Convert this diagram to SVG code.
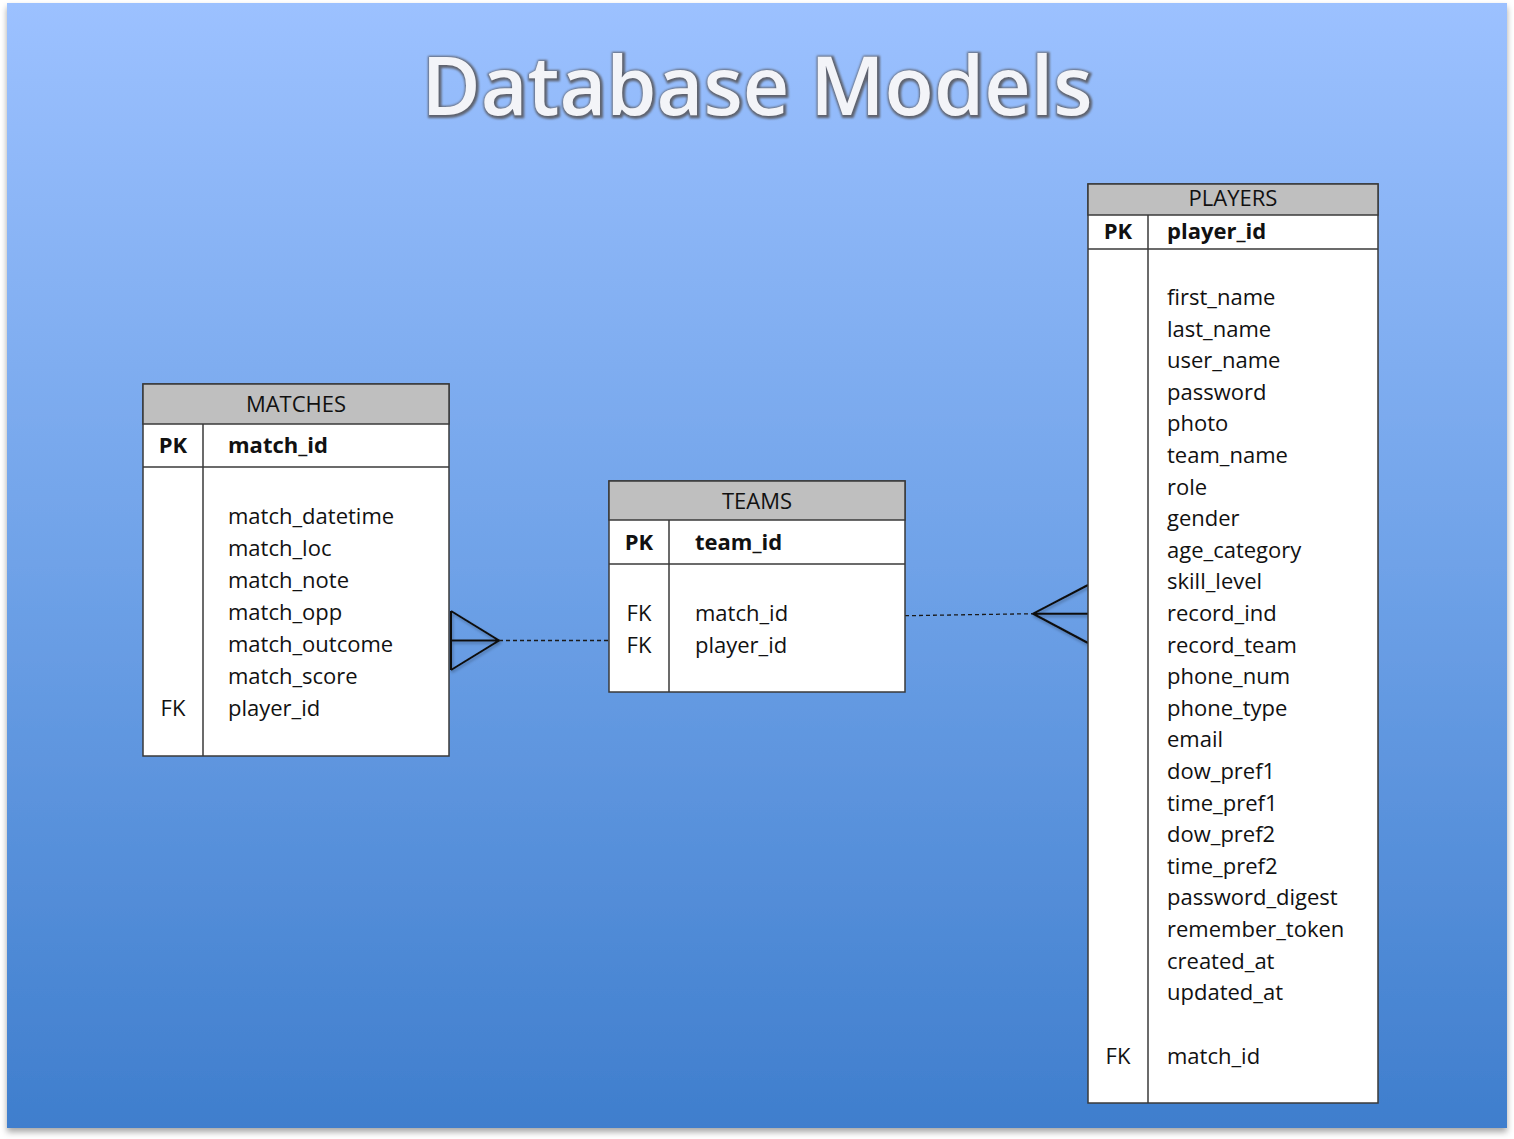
<svg xmlns="http://www.w3.org/2000/svg" width="1514" height="1139" viewBox="0 0 1514 1139">
<defs>
<linearGradient id="bg" x1="0" y1="0" x2="0" y2="1">
<stop offset="0" stop-color="#9CC1FF"/>
<stop offset="0.5" stop-color="#6FA2E8"/>
<stop offset="1" stop-color="#3F7ECD"/>
</linearGradient>
<filter id="pageShadow" x="-5%" y="-5%" width="110%" height="110%">
<feDropShadow dx="0" dy="4" stdDeviation="3" flood-color="#000" flood-opacity="0.35"/>
</filter>
<filter id="lineShadow" x="-20%" y="-20%" width="140%" height="140%">
<feDropShadow dx="1" dy="2" stdDeviation="1.5" flood-color="#000" flood-opacity="0.3"/>
</filter>
<filter id="emboss" x="-5%" y="-20%" width="110%" height="140%">
<feGaussianBlur stdDeviation="1.3"/>
</filter>
<style>
.tbl{fill:#FFFFFF;stroke:#3A3A3A;stroke-width:1.5}
.hdr{fill:#BFBFBF;stroke:#3A3A3A;stroke-width:1.5}
.ln{stroke:#3A3A3A;stroke-width:1.5;fill:none}
text{font-family:"Open Sans","Noto Sans","Liberation Sans",sans-serif;font-size:22px;fill:#111}
.h{text-anchor:middle}
.b{font-weight:bold}
.k{text-anchor:middle}
.crow{stroke:#111;stroke-width:2;fill:none}
.dash{stroke:#1a1a1a;stroke-width:1.3;stroke-dasharray:4 3;fill:none}
.title{font-size:82px;text-anchor:middle;font-weight:600}
</style>
</defs>
<rect x="0" y="0" width="1514" height="1139" fill="#FFFFFF"/>
<rect x="7" y="3" width="1500" height="1125" fill="url(#bg)" filter="url(#pageShadow)"/>

<g id="title">
<text class="title" x="758" y="116" textLength="671" lengthAdjust="spacingAndGlyphs" style="fill:#5E6470;stroke:#5E6470;stroke-width:4" filter="url(#emboss)">Database Models</text>
<text class="title" x="757" y="115" textLength="671" lengthAdjust="spacingAndGlyphs" style="fill:#F3F4F8">Database Models</text>
</g>

<g id="connectors">
<g filter="url(#lineShadow)">
<path class="crow" d="M451,611 L451,670 M451,611 L499,640.5 L451,670 M451,640.5 L499,640.5"/>
<path class="crow" d="M1088,585 L1033,613.7 L1088,643 M1033,613.7 L1088,613.7"/>
</g>
<path class="dash" d="M499,640.5 L608,640.5"/>
<path class="dash" d="M905,615.7 L1033,613.7"/>
</g>

<g id="matches">
<rect class="tbl" x="143" y="384" width="306" height="372"/>
<rect class="hdr" x="143" y="384" width="306" height="40"/>
<line class="ln" x1="143" y1="467" x2="449" y2="467"/>
<line class="ln" x1="203" y1="424" x2="203" y2="756"/>
<text class="h" x="296" y="412">MATCHES</text>
<text class="k b" x="173" y="453">PK</text>
<text class="b" x="228" y="453">match_id</text>
<text x="228" y="524">match_datetime</text>
<text x="228" y="556">match_loc</text>
<text x="228" y="588">match_note</text>
<text x="228" y="620">match_opp</text>
<text x="228" y="652">match_outcome</text>
<text x="228" y="684">match_score</text>
<text class="k" x="173" y="716">FK</text>
<text x="228" y="716">player_id</text>
</g>

<g id="teams">
<rect class="tbl" x="609" y="481" width="296" height="211"/>
<rect class="hdr" x="609" y="481" width="296" height="39"/>
<line class="ln" x1="609" y1="564" x2="905" y2="564"/>
<line class="ln" x1="669" y1="520" x2="669" y2="692"/>
<text class="h" x="757" y="509">TEAMS</text>
<text class="k b" x="639" y="550">PK</text>
<text class="b" x="695" y="550">team_id</text>
<text class="k" x="639" y="621">FK</text>
<text x="695" y="621">match_id</text>
<text class="k" x="639" y="653">FK</text>
<text x="695" y="653">player_id</text>
</g>

<g id="players">
<rect class="tbl" x="1088" y="184" width="290" height="919"/>
<rect class="hdr" x="1088" y="184" width="290" height="31"/>
<line class="ln" x1="1088" y1="249" x2="1378" y2="249"/>
<line class="ln" x1="1148" y1="215" x2="1148" y2="1103"/>
<text class="h" x="1233" y="206">PLAYERS</text>
<text class="k b" x="1118" y="239">PK</text>
<text class="b" x="1167" y="239">player_id</text>
<text x="1167" y="305">first_name</text>
<text x="1167" y="336.6">last_name</text>
<text x="1167" y="368.2">user_name</text>
<text x="1167" y="399.8">password</text>
<text x="1167" y="431.4">photo</text>
<text x="1167" y="463">team_name</text>
<text x="1167" y="494.6">role</text>
<text x="1167" y="526.2">gender</text>
<text x="1167" y="557.8">age_category</text>
<text x="1167" y="589.4">skill_level</text>
<text x="1167" y="621">record_ind</text>
<text x="1167" y="652.6">record_team</text>
<text x="1167" y="684.2">phone_num</text>
<text x="1167" y="715.8">phone_type</text>
<text x="1167" y="747.4">email</text>
<text x="1167" y="779">dow_pref1</text>
<text x="1167" y="810.6">time_pref1</text>
<text x="1167" y="842.2">dow_pref2</text>
<text x="1167" y="873.8">time_pref2</text>
<text x="1167" y="905.4">password_digest</text>
<text x="1167" y="937">remember_token</text>
<text x="1167" y="968.6">created_at</text>
<text x="1167" y="1000.2">updated_at</text>
<text class="k" x="1118" y="1064">FK</text>
<text x="1167" y="1064">match_id</text>
</g>
</svg>
